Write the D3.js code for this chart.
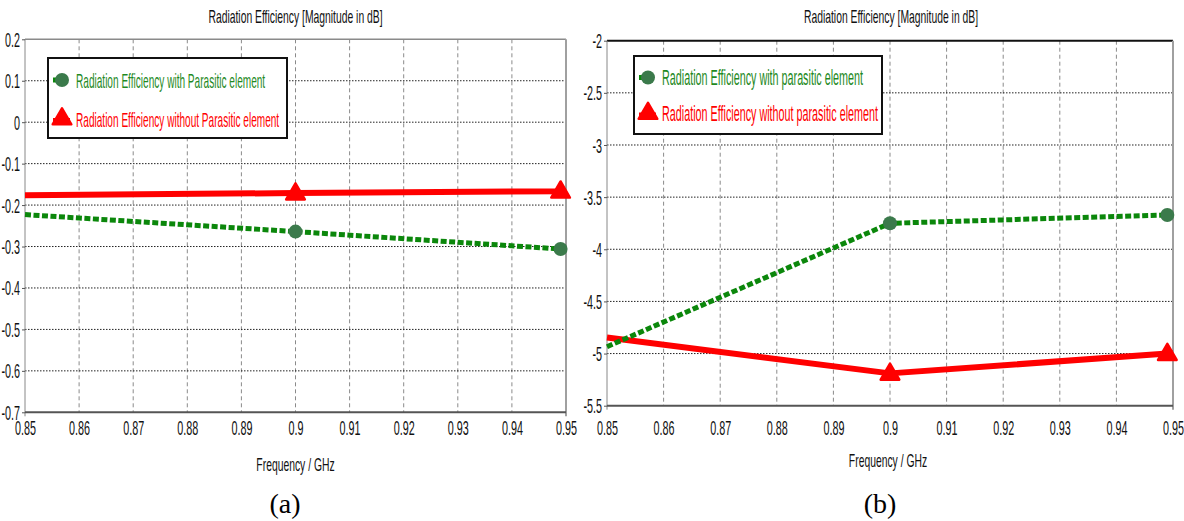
<!DOCTYPE html>
<html>
<head>
<meta charset="utf-8">
<script src="https://cdn.jsdelivr.net/npm/d3@7"></script>
<style>
  html, body { margin: 0; padding: 0; background: #fff; }
  svg { display: block; }
</style>
</head>
<body>
<svg id="chart" width="1184" height="521"></svg>
<script>
// ---- data: frequency (GHz) vs radiation efficiency (dB) ----
const freqA = [0.85, 0.9, 0.949, 0.95];
const withParasiticA = [-0.223, -0.264, -0.306, -0.307];
const withoutParasiticA = [-0.176, -0.171, -0.1665, -0.166];

const freqB = [0.85, 0.9, 0.949, 0.95];
const withParasiticB = [-4.934, -3.751, -3.671, -3.668];
const withoutParasiticB = [-4.847, -5.19, -5.0, -4.997];

// samples that carry a marker symbol
const markerIndex = [1, 2];

const xTicks = [0.85, 0.86, 0.87, 0.88, 0.89, 0.9, 0.91, 0.92, 0.93, 0.94, 0.95];
const yTicksA = [0.2, 0.1, 0, -0.1, -0.2, -0.3, -0.4, -0.5, -0.6, -0.7];
const yTicksB = [-2, -2.5, -3, -3.5, -4, -4.5, -5, -5.5];

const titleText = "Radiation Efficiency [Magnitude in dB]";
const xAxisTitle = "Frequency / GHz";
const legendA = ["Radiation Efficiency with Parasitic element", "Radiation Efficiency without Parasitic element"];
const legendB = ["Radiation Efficiency with parasitic element", "Radiation Efficiency without parasitic element"];
const panelLabels = ["(a)", "(b)"];

// ---- styling ----
const GREEN_LINE = "#0b870b";
const GREEN_MARK = "#3b7a4b";
const GREEN_TEXT = "#1f8a1f";
const RED = "#ff0000";
const FONT = "'Liberation Sans', Arial, sans-serif";

const svg = d3.select("#chart");

// condensed text: drawn at a size, then squeezed horizontally
function ctext(g, str, x, y, o) {
  return g.append("text")
    .attr("transform", `translate(${x},${y}) scale(${o.sx},1)`)
    .attr("text-anchor", o.anchor || "start")
    .attr("font-family", FONT)
    .attr("font-size", o.size)
    .attr("fill", o.fill || "#111")
    .text(str);
}

const fmt = v => String(+v.toFixed(2));

function drawPanel(cfg) {
  const g = svg.append("g");
  const x = d3.scaleLinear().domain([0.85, 0.95]).range([cfg.left, cfg.right]);
  const y = d3.scaleLinear().domain(cfg.yDomain).range([cfg.bottom, cfg.top]);

  // vertical dashed grid
  g.append("g").selectAll("line")
    .data(xTicks.slice(1, -1))
    .join("line")
    .attr("x1", d => x(d)).attr("x2", d => x(d))
    .attr("y1", cfg.top).attr("y2", cfg.bottom)
    .attr("stroke", "#8a8a8a").attr("stroke-width", 1)
    .attr("stroke-dasharray", "4,3");

  // horizontal dotted grid
  g.append("g").selectAll("line")
    .data(cfg.yTicks.slice(1, -1))
    .join("line")
    .attr("x1", cfg.left).attr("x2", cfg.right)
    .attr("y1", d => y(d)).attr("y2", d => y(d))
    .attr("stroke", "#222").attr("stroke-width", 1)
    .attr("stroke-dasharray", "1.5,1.5");

  // frame
  g.append("line").attr("x1", cfg.left).attr("x2", cfg.right)
    .attr("y1", cfg.top).attr("y2", cfg.top)
    .attr("stroke", cfg.topColor).attr("stroke-width", cfg.topWidth);
  g.append("line").attr("x1", cfg.right).attr("x2", cfg.right)
    .attr("y1", cfg.top).attr("y2", cfg.bottom + 4)
    .attr("stroke", "#a0a0a0").attr("stroke-width", 2);
  g.append("line").attr("x1", cfg.left).attr("x2", cfg.left)
    .attr("y1", cfg.top).attr("y2", cfg.bottom + 4)
    .attr("stroke", "#888").attr("stroke-width", 1);
  g.append("line").attr("x1", cfg.left).attr("x2", cfg.right)
    .attr("y1", cfg.bottom).attr("y2", cfg.bottom)
    .attr("stroke", "#555").attr("stroke-width", 2);

  // y axis labels
  const SX = 0.54, FS = 20;
  const ay = g.append("g").attr("transform", `translate(${cfg.left},0)`)
    .call(d3.axisLeft(y).tickValues(cfg.yTicks).tickSize(3).tickFormat(fmt));
  ay.select(".domain").remove();
  ay.selectAll(".tick line").attr("stroke", "#555");
  ay.selectAll(".tick text")
    .attr("x", -5 / SX).attr("dy", "0.35em")
    .attr("transform", `scale(${SX},1)`)
    .attr("font-family", FONT).attr("font-size", FS).attr("fill", "#111");

  // x axis labels
  const ax = g.append("g").attr("transform", `translate(0,${cfg.bottom})`)
    .call(d3.axisBottom(x).tickValues(xTicks).tickSize(0).tickFormat(fmt));
  ax.select(".domain").remove();
  ax.selectAll(".tick text")
    .attr("y", 435 - cfg.bottom).attr("dy", 0)
    .attr("transform", `scale(${SX},1)`)
    .attr("font-family", FONT).attr("font-size", FS).attr("fill", "#111");

  // titles
  const cx = (cfg.left + cfg.right) / 2;
  ctext(g, titleText, cx + cfg.titleDx, 23, { size: 19, sx: 0.545, anchor: "middle" });
  ctext(g, xAxisTitle, cx + cfg.xtDx, cfg.xtY, { size: 19, sx: 0.545, anchor: "middle" });
  g.append("text")
    .attr("x", cfg.labelX).attr("y", 513)
    .attr("text-anchor", "middle")
    .attr("font-family", "'Liberation Serif', 'Times New Roman', serif")
    .attr("font-size", 28).attr("fill", "#000")
    .text(cfg.label);

  // curves
  const idx = d3.range(cfg.freq.length);
  const line = vals => d3.line().x(i => x(cfg.freq[i])).y(i => y(vals[i]))(idx);

  g.append("path").attr("d", line(cfg.without))
    .attr("fill", "none").attr("stroke", RED).attr("stroke-width", 6)
    .attr("stroke-linejoin", "round");
  g.append("path").attr("d", line(cfg.with))
    .attr("fill", "none").attr("stroke", GREEN_LINE).attr("stroke-width", 5)
    .attr("stroke-dasharray", "6,2.5");

  const tri = d3.symbol().type(d3.symbolTriangle).size(150)();
  g.append("g").selectAll("path")
    .data(markerIndex).join("path")
    .attr("d", tri)
    .attr("transform", i => `translate(${x(cfg.freq[i])},${y(cfg.without[i]) + 1})`)
    .attr("fill", RED).attr("stroke", RED).attr("stroke-width", 2.5)
    .attr("stroke-linejoin", "round");
  g.append("g").selectAll("circle")
    .data(markerIndex).join("circle")
    .attr("cx", i => x(cfg.freq[i])).attr("cy", i => y(cfg.with[i]))
    .attr("r", 7).attr("fill", GREEN_MARK);

  // legend
  const L = cfg.legend;
  g.append("rect").attr("x", L.x).attr("y", L.y).attr("width", L.w).attr("height", L.h)
    .attr("fill", "#fff").attr("stroke", "#111").attr("stroke-width", 2);
  // row 1: with parasitic element
  g.append("line").attr("x1", L.x + 5).attr("x2", L.mx).attr("y1", L.r1).attr("y2", L.r1)
    .attr("stroke", GREEN_LINE).attr("stroke-width", 5);
  g.append("circle").attr("cx", L.mx).attr("cy", L.r1).attr("r", 7).attr("fill", GREEN_MARK);
  ctext(g, cfg.legendText[0], L.tx, L.r1 + 7.5, { size: L.fs, sx: L.sx, fill: GREEN_TEXT });
  // row 2: without parasitic element
  g.append("line").attr("x1", L.x + 5).attr("x2", L.mx + 8).attr("y1", L.r2 + 2).attr("y2", L.r2 + 2)
    .attr("stroke", RED).attr("stroke-width", 6);
  g.append("path").attr("d", tri)
    .attr("transform", `translate(${L.mx},${L.r2})`)
    .attr("fill", RED).attr("stroke", RED).attr("stroke-width", 2.5)
    .attr("stroke-linejoin", "round");
  ctext(g, cfg.legendText[1], L.tx, L.r2 + 7.5, { size: L.fs, sx: L.sx, fill: RED });
}

drawPanel({
  left: 25, right: 566, top: 39.3, bottom: 412.3,
  yDomain: [-0.7, 0.2], yTicks: yTicksA,
  freq: freqA, with: withParasiticA, without: withoutParasiticA,
  topColor: "#8a8a8a", topWidth: 1.5,
  titleDx: 0, xtDx: 0, xtY: 471, labelX: 285, label: panelLabels[0],
  legendText: legendA,
  legend: { x: 48, y: 58, w: 239, h: 80, r1: 80, r2: 119, mx: 62, tx: 76, fs: 21, sx: 0.48 }
});

drawPanel({
  left: 607, right: 1173, top: 40.7, bottom: 405.7,
  yDomain: [-5.5, -2], yTicks: yTicksB,
  freq: freqB, with: withParasiticB, without: withoutParasiticB,
  topColor: "#111", topWidth: 2,
  titleDx: 1, xtDx: -2, xtY: 466.5, labelX: 880, label: panelLabels[1],
  legendText: legendB,
  legend: { x: 634, y: 56, w: 248, h: 78, r1: 77.5, r2: 113.5, mx: 648, tx: 662, fs: 22, sx: 0.49 }
});
</script>
</body>
</html>
